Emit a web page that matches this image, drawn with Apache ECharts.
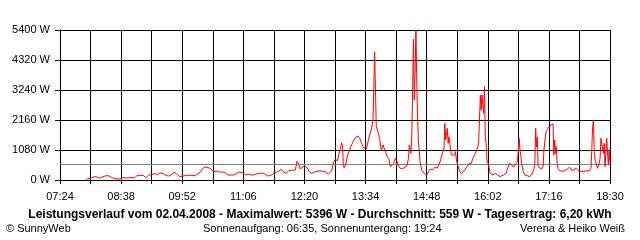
<!DOCTYPE html>
<html>
<head>
<meta charset="utf-8">
<script src="https://cdn.jsdelivr.net/npm/echarts@6/dist/echarts.min.js"></script>
<style>html,body{margin:0;padding:0;background:#fff}#c{width:640px;height:240px}</style>
</head>
<body>
<div id="c"></div>
<script>
// time of day in minutes since midnight
const timeMin = [476,478,482,486,488,492,494,498,502,505,508,513,517,520,523,525,528,531,534,537,541,545,548,551,555,559,562,565,569,572,575,578,582,585,589,593,597,599,604,608,611,614,617,620,622,626,629,632,635,638,641,644,647,651,654,658,661,665,669,673,677,681,685,689,692,696,700,704,708,712,714,718,721,725,729,731,733,735,737,740,743,746,749,753,759,765,769,773,775,777,780,782,784,785,786,787,788,790,792,794,797,800,802,805,807,809,811,813,815,817,819,820,822,823,824,825,826,827,829,831,833,835,836,838,840,842,844,846,848,850,852,854,856,860,864,866,867,869,870,871,872,873,874,875,876,877,878,879,880,882,885,888,890,892,896,898,901,903,905,907,909,910,911,913,914,915,917,918,922,923,924,926,928,930,934,936,939,942,944,947,950,951,953,954,955,957,958,959,960,961,963,965,968,971,974,977,981,984,986,988,991,993,995,998,999,1000,1001,1002,1003,1005,1007,1009,1013,1015,1016,1018,1019,1020,1021,1022,1023,1025,1027,1029,1030,1032,1033,1035,1037,1039,1041,1042,1043,1044,1045,1046,1047,1049,1051,1054,1058,1061,1064,1066,1069,1072,1074,1078,1081,1085,1087,1088,1089,1090,1091,1092,1094,1095,1097,1098,1099,1100,1101,1102,1103,1104,1105,1106,1107,1108,1109,1110];
// power in W
const powerW = [30,70,70,130,110,70,130,140,160,120,70,40,40,90,70,40,80,100,70,150,170,160,80,170,200,230,190,260,230,170,140,170,290,220,120,140,170,150,170,150,220,290,420,470,480,420,320,300,320,280,290,260,180,180,180,240,280,260,180,210,170,210,240,250,220,140,180,260,300,390,300,240,340,350,360,670,580,400,420,510,440,290,240,300,330,300,220,330,620,750,690,960,1200,1340,1260,600,440,540,860,900,1260,1440,1540,1580,1500,1340,1180,1110,1110,1380,1620,1700,1980,2160,3360,4610,3240,1920,1740,1500,1050,1260,1190,1040,860,780,480,540,600,780,680,500,420,420,500,780,1260,960,1620,3240,5070,2880,3960,5396,3600,2280,1380,1080,660,360,240,180,250,390,380,460,430,500,720,960,1140,2040,1440,1860,1320,1560,1080,900,900,1020,720,500,300,220,360,420,580,600,780,960,1200,1380,3060,2520,3060,2400,3360,1560,1320,720,540,240,180,240,180,120,180,240,240,600,540,460,540,660,1080,1500,1080,900,600,300,180,120,120,100,240,420,600,1860,1190,1540,480,420,390,480,1080,1620,1780,1830,1940,1980,2020,900,1440,960,1200,600,420,330,390,320,390,460,330,300,420,330,330,300,330,330,420,1140,1920,2160,960,720,720,420,600,780,1500,1500,1440,960,1320,480,420,1500,1500,540,1080,600];
const averageW = 559;
const yTicks = [0,1080,2160,3240,4320,5400];
const xTickTimes = ['07:24','08:38','09:52','11:06','12:20','13:34','14:48','16:02','17:16','18:30'];
const titleText = 'Leistungsverlauf vom 02.04.2008 - Maximalwert: 5396 W - Durchschnitt: 559 W - Tagesertrag: 6,20 kWh';
const footLeft = '\u00A9 SunnyWeb';
const footMid = 'Sonnenaufgang: 06:35, Sonnenuntergang: 19:24';
const footRight = 'Verena & Heiko Wei\u00DF';

function toMin(s){const p=s.split(':');return (+p[0])*60+(+p[1]);}
const xMin = toMin(xTickTimes[0]), xMax = toMin(xTickTimes[xTickTimes.length-1]);
const xStep = toMin(xTickTimes[1]) - xMin;
function fmt(v){const h=Math.floor(v/60),m=Math.round(v%60);return (h<10?'0':'')+h+':'+(m<10?'0':'')+m;}

const FONT = 'Liberation Sans';
const chart = echarts.init(document.getElementById('c'), null, {renderer:'canvas'});
chart.setOption({
  animation:false,
  backgroundColor:'#ffffff',
  grid:{left:60,right:30,top:30,bottom:60,containLabel:false},
  xAxis:{
    type:'value',min:xMin,max:xMax,interval:xStep,
    axisLine:{show:true,lineStyle:{color:'#000',width:1}},
    axisTick:{show:true,length:4,lineStyle:{color:'#000'}},
    minorTick:{show:true,splitNumber:2,length:4,lineStyle:{color:'#000'}},
    splitLine:{show:true,lineStyle:{color:'#000',width:1}},
    minorSplitLine:{show:true,lineStyle:{color:'#000',width:1}},
    axisLabel:{formatter:fmt,color:'#000',fontFamily:FONT,fontSize:11,margin:11}
  },
  yAxis:{
    type:'value',min:yTicks[0],max:yTicks[yTicks.length-1],interval:yTicks[1]-yTicks[0],
    axisLine:{show:true,lineStyle:{color:'#000',width:1}},
    axisTick:{show:true,length:5,lineStyle:{color:'#000'}},
    splitLine:{show:true,lineStyle:{color:'#000',width:1}},
    axisLabel:{formatter:function(v){return String(v)+' W';},color:'#000',fontFamily:FONT,fontSize:11,margin:10}
  },
  series:[
    {type:'line',data:[[xMin,averageW],[xMax,averageW]],symbol:'none',silent:true,
     lineStyle:{color:'#808080',width:1},z:2},
    {type:'line',data:timeMin.map((t,i)=>[t,powerW[i]]),symbol:'none',
     lineStyle:{color:'#ff0000',width:1},z:3}
  ],
  graphic:[
    {type:'text',left:'center',top:209,style:{text:titleText,fill:'#000',font:'bold 12px "'+FONT+'"'}},
    {type:'text',left:6,top:223,style:{text:footLeft,fill:'#000',font:'11px "'+FONT+'"'}},
    {type:'text',left:203,top:223,style:{text:footMid,fill:'#000',font:'11px "'+FONT+'"'}},
    {type:'text',right:15,top:223,style:{text:footRight,fill:'#000',font:'11px "'+FONT+'"'}}
  ]
});
</script>
</body>
</html>
